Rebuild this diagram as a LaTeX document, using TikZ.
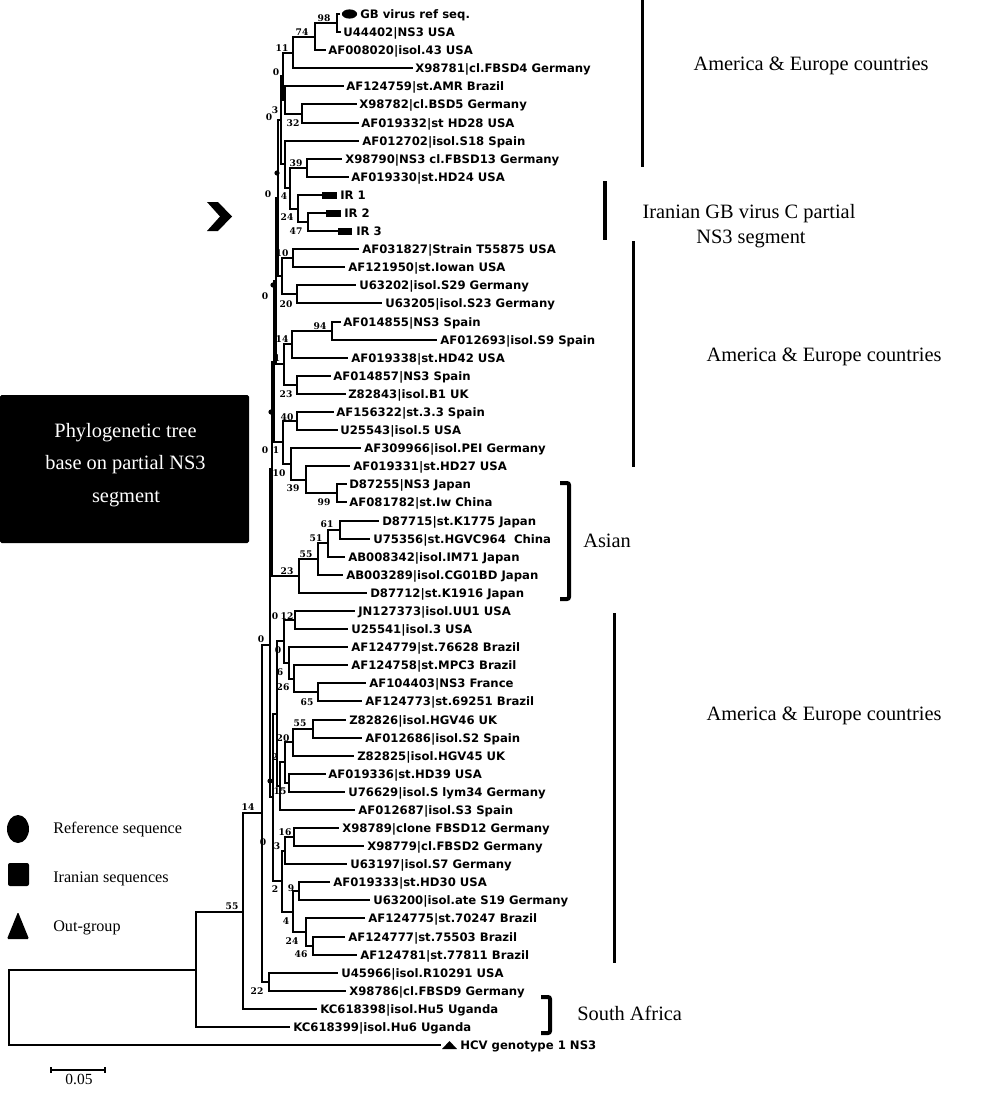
\documentclass[tikz,border=0pt]{standalone}
\usepackage{fontspec}
\setmainfont{Liberation Serif}
\newfontfamily\taxfont{DejaVu Sans}
\newfontfamily\bsfont{DejaVu Serif}
\begin{document}
\begin{tikzpicture}[x=0.25mm,y=-0.25mm,
  branch/.style={line width=0.5mm,line cap=rect},
  taxon/.style={font=\taxfont\bfseries\fontsize{8.3}{9}\selectfont,anchor=base west,inner sep=0pt},
  bs/.style={font=\bsfont\bfseries\fontsize{6.5}{7}\selectfont,inner sep=0pt},
  grp/.style={font=\fontsize{14.5}{17}\selectfont,inner sep=0pt,anchor=base},
  leg/.style={font=\fontsize{11.5}{13}\selectfont,inner sep=0pt,anchor=base west},
  bar/.style={line width=0.75mm}]
\useasboundingbox (0,0) rectangle (1000,1093);

% ---------- leaves ----------
\foreach \i/\tp/\xs/\txt in {
1/339/360/{GB virus ref seq.},
2/340/343/{U44402|NS3 USA},
3/325/328/{AF008020|isol.43 USA},
4/412/415/{X98781|cl.FBSD4 Germany},
5/343/346/{AF124759|st.AMR Brazil},
6/356/359/{X98782|cl.BSD5 Germany},
7/358/361/{AF019332|st HD28 USA},
8/358/362/{AF012702|isol.S18 Spain},
9/341/345/{X98790|NS3 cl.FBSD13 Germany},
10/348/351/{AF019330|st.HD24 USA},
11/321/340/{IR 1},
12/325/344/{IR 2},
13/337/356/{IR 3},
14/358/362/{AF031827|Strain T55875 USA},
15/344/348/{AF121950|st.Iowan USA},
16/355/359/{U63202|isol.S29 Germany},
17/381/385/{U63205|isol.S23 Germany},
18/340/343/{AF014855|NS3 Spain},
19/436/440/{AF012693|isol.S9 Spain},
20/347/351/{AF019338|st.HD42 USA},
21/330/333/{AF014857|NS3 Spain},
22/345/348/{Z82843|isol.B1 UK},
23/333/336/{AF156322|st.3.3 Spain},
24/337/340/{U25543|isol.5 USA},
25/360/364/{AF309966|isol.PEI Germany},
26/349/353/{AF019331|st.HD27 USA},
27/346/349/{D87255|NS3 Japan},
28/346/349/{AF081782|st.Iw China},
29/378/382/{D87715|st.K1775 Japan},
30/369/373/{U75356|st.HGVC964\ \ China},
31/344/348/{AB008342|isol.IM71 Japan},
32/342/346/{AB003289|isol.CG01BD Japan},
33/366/370/{D87712|st.K1916 Japan},
34/354/358/{JN127373|isol.UU1 USA},
35/347/351/{U25541|isol.3 USA},
36/347/351/{AF124779|st.76628 Brazil},
37/347/351/{AF124758|st.MPC3 Brazil},
38/365/369/{AF104403|NS3 France},
39/361/365/{AF124773|st.69251 Brazil},
40/345/349/{Z82826|isol.HGV46 UK},
41/361/365/{AF012686|isol.S2 Spain},
42/353/357/{Z82825|isol.HGV45 UK},
43/325/328/{AF019336|st.HD39 USA},
44/344/348/{U76629|isol.S lym34 Germany},
45/354/358/{AF012687|isol.S3 Spain},
46/338/342/{X98789|clone FBSD12 Germany},
47/363/367/{X98779|cl.FBSD2 Germany},
48/346/350/{U63197|isol.S7 Germany},
49/329/333/{AF019333|st.HD30 USA},
50/369/373/{U63200|isol.ate S19 Germany},
51/364/368/{AF124775|st.70247 Brazil},
52/344/348/{AF124777|st.75503 Brazil},
53/356/360/{AF124781|st.77811 Brazil},
54/337/341/{U45966|isol.R10291 USA},
55/345/349/{X98786|cl.FBSD9 Germany},
56/316/320/{KC618398|isol.Hu5 Uganda},
57/289/293/{KC618399|isol.Hu6 Uganda},
58/440/460/{HCV genotype 1 NS3}}
{
  \pgfmathsetmacro\yy{round(14+(\i-1)*18.09)}
  \coordinate (t\i) at (\tp,\yy);
  \node[taxon] (l\i) at (\xs,{\yy+4.2}) {\txt};
}

% ---------- internal nodes ----------
\foreach \n/\x/\y in {
n98/337/23, n74/315/37, n11/293/53, n32/302/114, n3/285/100, n0a/283/76,
n39a/307/168, n47/308/222, n24/298/209, n4/290/188, n8/285/164, n0b/281/120,
n1415/293/258, n20a/297/294, n10a/282/276, n0c/278/198,
n94/332/331, n14a/292/344, n23a/297/385, n1a/284/364, nU1/276/281,
n40/297/421, n99/337/493, n39b/306/480, n10b/291/464, n1b/283/442, nU2/274/362,
n61/340/530, n51/328/543, n55a/318/559, n23b/299/576, nU3/272/469,
n12/295/620, n65/318/692, n26/294/679, n6/289/663, n0d/284/641,
n55b/313/729, n20b/293/742, n4344/289/783, n2a/285/762, n15/280/786, nL1/277/714,
n16/294/837, n3b/285/851, n9/299/891, n46/313/946, n24b/306/932, n4b/293/912,
n2b/282/881, nL2/273/797, nT/270/645, n22/269/982, N262/262/813,
n14b/243/912, n55r/196/970, root/9/1008}
  \coordinate (\n) at (\x,\y);

% ---------- branches ----------
\foreach \p/\c in {n98/t1,n98/t2,n74/n98,n74/t3,n11/n74,n11/t4,n32/t6,n32/t7,n3/t5,n3/n32,
n0a/n11,n0a/n3,n39a/t9,n39a/t10,n47/t12,n47/t13,n24/t11,n24/n47,n4/n39a,n4/n24,n8/t8,n8/n4,
n0b/n0a,n0b/n8,n1415/t14,n1415/t15,n20a/t16,n20a/t17,n10a/n1415,n10a/n20a,n0c/n0b,n0c/n10a,
n94/t18,n94/t19,n14a/n94,n14a/t20,n23a/t21,n23a/t22,n1a/n14a,n1a/n23a,nU1/n0c,nU1/n1a,
n40/t23,n40/t24,n99/t27,n99/t28,n39b/t26,n39b/n99,n10b/t25,n10b/n39b,n1b/n40,n1b/n10b,
nU2/nU1,nU2/n1b,n61/t29,n61/t30,n51/n61,n51/t31,n55a/n51,n55a/t32,n23b/n55a,n23b/t33,
nU3/nU2,nU3/n23b,n12/t34,n12/t35,n65/t38,n65/t39,n26/t37,n26/n65,n6/t36,n6/n26,n0d/n12,n0d/n6,
n55b/t40,n55b/t41,n20b/n55b,n20b/t42,n4344/t43,n4344/t44,n2a/n20b,n2a/n4344,n15/n2a,n15/t45,
nL1/n0d,nL1/n15,n16/t46,n16/t47,n3b/n16,n3b/t48,n9/t49,n9/t50,n46/t52,n46/t53,n24b/t51,n24b/n46,
n4b/n9,n4b/n24b,n2b/n3b,n2b/n4b,nL2/nL1,nL2/n2b,nT/nU3,nT/nL2,n22/t54,n22/t55,N262/nT,N262/n22,
n14b/N262,n14b/t56,n55r/n14b,n55r/t57,root/n55r,root/t58}
  \draw[branch] (\p) |- (\c);

% small node dots on the backbone
\foreach \x/\y in {277/173, 273/285, 271/412, 270/781}
  \fill (\x,\y) circle [radius=0.65mm];

% ---------- bootstrap values ----------
\foreach \x/\y/\v [count=\k] in {324/18/98, 302/32/74, 282/48/11, 276/72/0, 269/117/0, 275/110/3,
293/123/32, 296/163/39, 268/194/0, 284/196/4, 287/217/24, 296/231/47, 282/253/10, 265/296/0,
286/304/20, 320/326/94, 282/339/14, 277/358/1, 286/394/23, 287/417/40, 265/450/0, 276/450/1,
279/473/10, 293/488/39, 324/502/99, 327/524/61, 316/538/51, 306/554/55, 287/571/23, 275/616/0,
287/616/12, 261/639/0, 278/650/0, 280/672/6, 283/687/26, 307/702/65, 300/723/55, 283/738/20,
275/757/2, 280/791/15, 285/832/16, 263/842/0, 277/846/3, 275/889/2, 291/888/9, 286/921/4,
292/941/24, 301/954/46, 248/807/14, 232/906/55, 257/991/22}
  \node[bs] (b\k) at (\x,\y) {\v};

% ---------- tip markers ----------
\fill (349.5,14) ellipse [x radius=1.9mm, y radius=1.15mm];
\fill (322,191.5) rectangle (337,198.5);
\fill (326,209.5) rectangle (341,216.5);
\fill (338,227.5) rectangle (352,234.5);
\fill (442,1049) -- (449.5,1041) -- (457,1049) -- cycle;

% ---------- group bars and brackets ----------
\draw[bar] (642,0) -- (642,167);
\draw[line width=1.2mm] (605,181) -- (605,240);
\draw[bar] (633,241) -- (633,467);
\draw[line width=1mm,rounded corners=0.5mm] (560,483) -- (569,483) -- (569,599) -- (560,599);
\draw[bar] (614,613) -- (614,963);
\draw[line width=1mm,rounded corners=0.5mm] (541,997) -- (550,997) -- (550,1033) -- (541,1033);

\node[grp] (g1) at (811,70.7) {America \& Europe countries};
\node[grp] (g2) at (749,218) {Iranian GB virus C partial};
\node[grp] (g3) at (751,243) {NS3 segment};
\node[grp] (g4) at (824,361) {America \& Europe countries};
\node[grp,anchor=base west] (g5) at (583,547) {Asian};
\node[grp] (g6) at (824,720) {America \& Europe countries};
\node[grp,anchor=base west] (g7) at (577,1020) {South Africa};

% ---------- left panel ----------
\fill[rounded corners=0.4mm] (0,395) rectangle (249,543);
\node[grp,text=white] (p1) at (125.5,437) {Phylogenetic tree};
\node[grp,text=white] (p2) at (125.5,469) {base on partial NS3};
\node[grp,text=white] (p3) at (126,502) {segment};

% chevron
\fill (207,202) -- (218,202) -- (232,216.5) -- (218,231) -- (207,231) -- (220,216.5) -- cycle;

% ---------- legend ----------
\fill (18,829) ellipse [x radius=2.75mm, y radius=3.5mm];
\node[leg] (r1) at (53,833) {Reference sequence};
\fill[rounded corners=0.5mm] (8,863) rectangle (29,886);
\node[leg] (r2) at (53,882) {Iranian sequences};
\fill[rounded corners=0.3mm] (7,939) -- (18,912) -- (29,939) -- cycle;
\node[leg] (r3) at (53,931) {Out-group};

% ---------- scale bar ----------
\draw[line width=0.4mm] (51,1070) -- (105,1070);
\draw[line width=0.5mm] (51,1067) -- (51,1073);
\draw[line width=0.5mm] (105,1067) -- (105,1073);
\node[font=\fontsize{11}{12}\selectfont,inner sep=0pt] (sb) at (79,1079) {0.05};
\end{tikzpicture}
\end{document}
